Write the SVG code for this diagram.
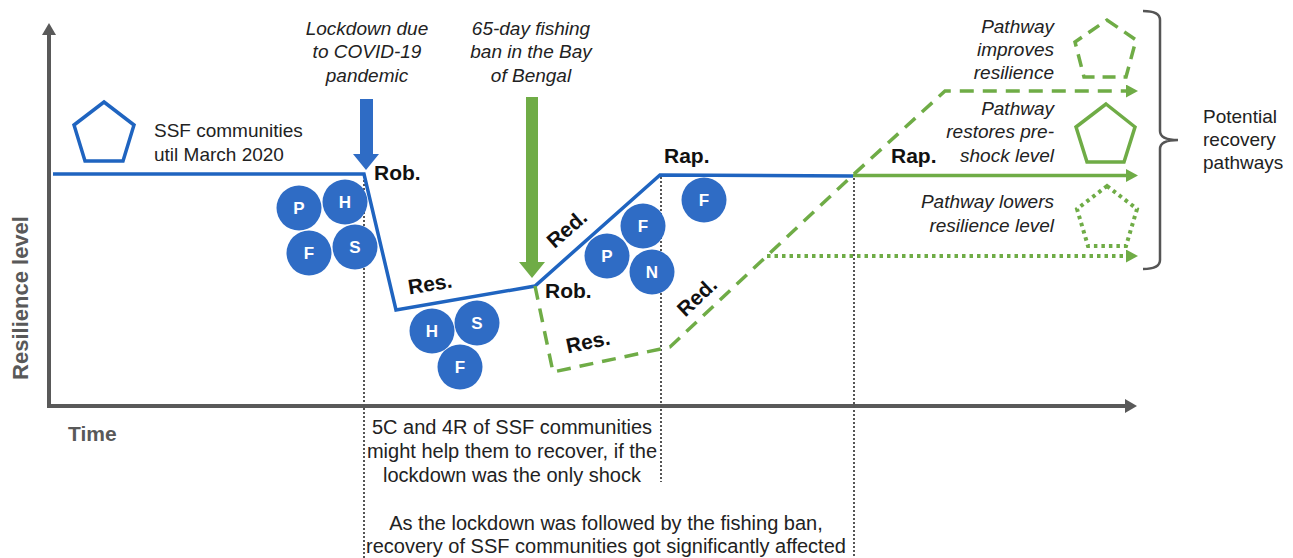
<svg xmlns="http://www.w3.org/2000/svg" width="1293" height="558" viewBox="0 0 1293 558">
<style>
.t{font-family:"Liberation Sans",Arial,sans-serif;font-size:19px;fill:#222}
.n{font-family:"Liberation Sans",Arial,sans-serif;font-size:20px;fill:#222;text-anchor:middle}
.it{font-family:"Liberation Sans",Arial,sans-serif;font-size:19px;font-style:italic;fill:#222}
.b{font-family:"Liberation Sans",Arial,sans-serif;font-size:21px;font-weight:bold;fill:#111}
.ax{font-family:"Liberation Sans",Arial,sans-serif;font-size:21px;font-weight:bold;fill:#595959}
.c{fill:#2F6CC5}
.cl{font-family:"Liberation Sans",Arial,sans-serif;font-size:17px;font-weight:bold;fill:#fff;text-anchor:middle}
.vd{stroke:#555;stroke-width:2;stroke-dasharray:2 2;fill:none}
.gr{stroke:#6FAC46;stroke-width:3.5;fill:none}
.bl{stroke:#1F64C0;stroke-width:3.5;fill:none;stroke-linejoin:miter}
</style>
<defs>
<marker id="ga" markerUnits="userSpaceOnUse" viewBox="0 0 12 14" markerWidth="12" markerHeight="14" refX="0" refY="7" orient="auto"><path d="M0,0 L12,7 L0,14 z" fill="#595959"/></marker>
<marker id="gn" markerUnits="userSpaceOnUse" viewBox="0 0 12 13" markerWidth="12" markerHeight="13" refX="0" refY="6.5" orient="auto"><path d="M0,0 L12,6.5 L0,13 z" fill="#6FAC46"/></marker>
</defs>
<rect width="1293" height="558" fill="#fff"/>
<g id="axes">
<line x1="49" y1="408" x2="49" y2="35" stroke="#595959" stroke-width="4" marker-end="url(#ga)"/>
<line x1="47" y1="406" x2="1125" y2="406" stroke="#595959" stroke-width="4" marker-end="url(#ga)"/>
<text class="ax" transform="translate(28,298) rotate(-90)" text-anchor="middle" style="font-size:22px">Resilience level</text>
<text class="ax" x="68" y="441">Time</text>
</g>
<g id="connectors">
<line class="vd" x1="364" y1="176" x2="364" y2="558"/>
<line class="vd" x1="661" y1="177" x2="661" y2="482"/>
<line class="vd" x1="854" y1="178" x2="854" y2="558"/>
<path class="bl" d="M53,174 L364,174 L396,310 L535,286 L660,175 L853,176"/>
<path class="gr" d="M853,175.5 L1126,175.5" marker-end="url(#gn)"/>
<path class="gr" style="stroke-dasharray:14 9" d="M535,286 L553,372 L670,347 L853,175 L945,91 L1126,91" marker-end="url(#gn)"/>
<path class="gr" style="stroke-width:4;stroke-dasharray:3.5 4" d="M767,256 L1126,256" marker-end="url(#gn)"/>
<polygon points="360,99 373,99 373,154 379,154 366,170 353,154 360,154" fill="#2F6CC5"/>
<polygon points="526,97 538,97 538,262 545,262 532,278 519,262 526,262" fill="#6FAC46"/>
</g>
<g id="lockdown-label">
<text class="it" text-anchor="middle"><tspan x="367" y="35">Lockdown due</tspan><tspan x="367" y="58">to COVID-19</tspan><tspan x="367" y="82">pandemic</tspan></text>
</g>
<g id="fishing-ban-label">
<text class="it" text-anchor="middle"><tspan x="531" y="35">65-day fishing</tspan><tspan x="531" y="58">ban in the Bay</tspan><tspan x="531" y="82">of Bengal</tspan></text>
</g>
<g id="ssf-start">
<polygon points="104,102 134,125 123,161 85,161 74,125" fill="none" stroke="#1F64C0" stroke-width="3.5"/>
<text class="t"><tspan x="154" y="137">SSF communities</tspan><tspan x="154" y="161">util March 2020</tspan></text>
</g>
<g id="phase-labels">
<text class="b" x="374" y="180">Rob.</text>
<text class="b" transform="translate(430,284) rotate(-9)" text-anchor="middle" y="7">Res.</text>
<text class="b" x="545" y="298">Rob.</text>
<text class="b" transform="translate(567,229) rotate(-41)" text-anchor="middle" y="7">Red.</text>
<text class="b" transform="translate(588,342) rotate(-12)" text-anchor="middle" y="7">Res.</text>
<text class="b" transform="translate(697,297) rotate(-43)" text-anchor="middle" y="7">Red.</text>
<text class="b" x="664" y="163">Rap.</text>
<text class="b" x="891" y="163">Rap.</text>
</g>
<g id="circles-1">
<circle class="c" cx="299" cy="208" r="22.5"/><text class="cl" x="299" y="214">P</text>
<circle class="c" cx="345" cy="202" r="22.5"/><text class="cl" x="345" y="208">H</text>
<circle class="c" cx="309" cy="253" r="22.5"/><text class="cl" x="309" y="259">F</text>
<circle class="c" cx="355" cy="247" r="22.5"/><text class="cl" x="355" y="253">S</text>
</g>
<g id="circles-2">
<circle class="c" cx="432" cy="331" r="22.5"/><text class="cl" x="432" y="337">H</text>
<circle class="c" cx="477" cy="323" r="22.5"/><text class="cl" x="477" y="329">S</text>
<circle class="c" cx="460" cy="367" r="22.5"/><text class="cl" x="460" y="373">F</text>
</g>
<g id="circles-3">
<circle class="c" cx="643" cy="226" r="22.5"/><text class="cl" x="643" y="232">F</text>
<circle class="c" cx="607" cy="256" r="22.5"/><text class="cl" x="607" y="262">P</text>
<circle class="c" cx="652" cy="272" r="22.5"/><text class="cl" x="652" y="278">N</text>
</g>
<g id="circles-4">
<circle class="c" cx="704" cy="200" r="22.5"/><text class="cl" x="704" y="206">F</text>
</g>
<g id="pathway-improves">
<text class="it" text-anchor="end"><tspan x="1054" y="33">Pathway</tspan><tspan x="1054" y="56">improves</tspan><tspan x="1054" y="79">resilience</tspan></text>
<polygon points="1107,20 1136,40 1126,77 1084,77 1075,42" fill="none" stroke="#6FAC46" stroke-width="3.5" stroke-dasharray="13 8"/>
</g>
<g id="pathway-restores">
<text class="it" text-anchor="end"><tspan x="1054" y="115">Pathway</tspan><tspan x="1054" y="138">restores pre-</tspan><tspan x="1054" y="162">shock level</tspan></text>
<polygon points="1106,104 1135,127 1124,162 1087,162 1076,127" fill="none" stroke="#6FAC46" stroke-width="3.5"/>
</g>
<g id="pathway-lowers">
<text class="it" text-anchor="end"><tspan x="1054" y="208">Pathway lowers</tspan><tspan x="1054" y="232">resilience level</tspan></text>
<polygon points="1107,186 1137,209 1126,246 1088,246 1077,209" fill="none" stroke="#6FAC46" stroke-width="4" stroke-dasharray="3.5 4"/>
</g>
<g id="recovery-brace">
<path d="M1143,11 Q1160,11 1160,20 V131 Q1160,140 1178,140 Q1160,140 1160,149 V260 Q1160,269 1143,269" fill="none" stroke="#555" stroke-width="2.5"/>
<text class="t"><tspan x="1203" y="123">Potential</tspan><tspan x="1203" y="146">recovery</tspan><tspan x="1203" y="169">pathways</tspan></text>
</g>
<g id="note-lockdown">
<text class="n"><tspan x="512" y="434">5C and 4R of SSF communities</tspan><tspan x="512" y="458">might help them to recover, if the</tspan><tspan x="512" y="482">lockdown was the only shock</tspan></text>
</g>
<g id="note-fishing-ban">
<text class="n"><tspan x="606" y="530">As the lockdown was followed by the fishing ban,</tspan><tspan x="606" y="553">recovery of SSF communities got significantly affected</tspan></text>
</g>
</svg>
